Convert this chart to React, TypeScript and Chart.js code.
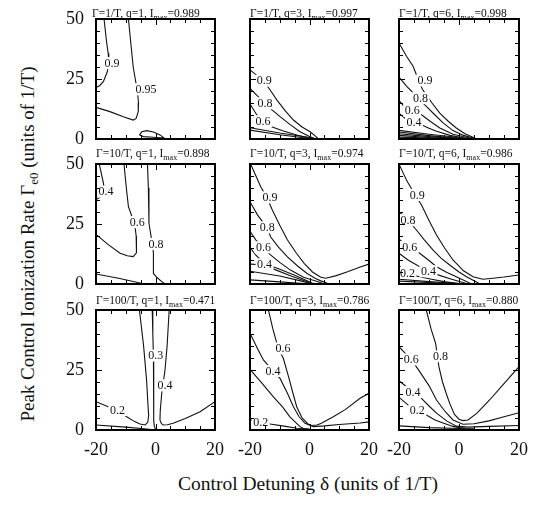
import React, { useEffect, useRef } from "react";
import { Chart, registerables } from "chart.js";
Chart.register(...registerables);

type P = [number, number];
type L = [number, number, string];

// axis ticks
const xTickLabels = [-20, 0, 20];
const yTickLabels = [0, 25, 50];

// panel parameters
const decayRates = ["1/T", "10/T", "100/T"];
const qValues = [1, 3, 6];
const iMaxRow1 = ["0.989", "0.997", "0.998"];
const iMaxRow2 = ["0.898", "0.974", "0.986"];
const iMaxRow3 = ["0.471", "0.786", "0.880"];

// ---- Γ=1/T, q=1
const c11a: P[] = [[-17.3, 50], [-16.4, 40], [-15.9, 35.7], [-15.7, 32], [-16.2, 28], [-17.5, 24], [-18.8, 22.2], [-20, 21.5]];
const c11b: P[] = [[-9.1, 50], [-8.3, 40], [-7.5, 30], [-6.8, 25], [-6.1, 20], [-5.7, 15], [-5.8, 11.4], [-6.5, 8.6], [-7.5, 7.9], [-10.8, 9.3], [-15.3, 11.4], [-20, 13.2]];
const c11c: P[] = [[-5.4, 1.7], [-4.6, 3.0], [-3.0, 3.5], [-0.7, 2.9], [1.5, 1.7], [2.9, 0.4], [-0.7, 0.7], [-4.1, 1.0], [-5.4, 1.7]];
const lab11: L[] = [[-14.6, 31.6, "0.9"], [-3.2, 20.7, "0.95"]];

// ---- Γ=1/T, q=3
const c12a: P[] = [[-20, 28.8], [-17.5, 26.3], [-15.5, 24.4], [-13, 20], [-11, 16.3], [-8, 11.5], [-5.4, 7.9], [-2.5, 5], [0.2, 3], [2, 1.2], [3, 0]];
const c12b: P[] = [[-20, 21.1], [-17.5, 18], [-15, 14.9], [-12.5, 12], [-9.9, 9.3], [-6.5, 6], [-3.2, 3], [0, 1], [2, 0]];
const c12c: P[] = [[-20, 14.6], [-17.7, 10], [-15.8, 7.5], [-13, 5.2], [-9, 3.4], [-4, 1.6], [0, 0.4], [1, 0]];
const c12d: P[] = [[-20, 4.7], [-10, 2.5], [0, 0.6], [3, 0]];
const c12e: P[] = [[-20, 3.7], [-10, 1.8], [0, 0.2], [2, 0]];
const lab12: L[] = [[-15.2, 24.3, "0.9"], [-15, 14.9, "0.8"], [-15.6, 7.4, "0.6"]];

// ---- Γ=1/T, q=6
const c13a: P[] = [[-20, 40], [-17.5, 34.5], [-15.3, 30.3], [-13.8, 25.5], [-12.2, 20.7], [-9, 15], [-6.4, 10.8], [-3.5, 7.3], [-0.9, 4.6], [2, 2.2], [5.2, 0.4], [6, 0]];
const c13b: P[] = [[-20, 25.8], [-17.5, 22], [-15.3, 19.2], [-13, 16.2], [-10.9, 13.6], [-8, 10], [-5.3, 6.7], [-2, 3.5], [1.5, 1.5], [4.7, 0.4], [5.5, 0]];
const c13c: P[] = [[-20, 16.1], [-18.3, 13.5], [-15.6, 11.5], [-12.5, 10.1], [-9.5, 7.3], [-6.4, 4.6], [-2, 2], [3.5, 0.4], [4.5, 0]];
const c13d: P[] = [[-20, 10.8], [-18, 8.6], [-15.9, 7], [-13.1, 6.2], [-10, 4.5], [-7.5, 3.2], [-3, 1.5], [2, 0.3], [3, 0]];
const c13e: P[] = [[-20, 3.6], [-10, 2], [0, 0.6], [4, 0]];
const c13f: P[] = [[-20, 2.9], [-10, 1.4], [3, 0]];
const c13g: P[] = [[-20, 2.2], [-10, 1], [2, 0]];
const c13h: P[] = [[-20, 1.5], [-10, 0.6], [1, 0]];
const c13i: P[] = [[-20, 0.8], [0, 0]];
const lab13: L[] = [[-11.3, 24.4, "0.9"], [-12.8, 17, "0.8"], [-15.6, 11.8, "0.6"], [-15, 6.8, "0.4"]];

// ---- Γ=10/T, q=1
const c21a: P[] = [[-18.9, 50], [-18.2, 46], [-17.5, 42], [-17.2, 39], [-18, 37], [-19.2, 35.7], [-20, 35.2]];
const c21b: P[] = [[-10.6, 50], [-9.8, 40], [-9.1, 32.2], [-7.6, 27], [-6.8, 23], [-6.5, 20], [-6.3, 16], [-6.5, 13], [-7.5, 11.4], [-9.5, 11.8], [-11.9, 12.8], [-16, 16.5], [-20, 20.7]];
const c21c: P[] = [[-2.7, 50], [-2.4, 40], [-2.2, 25.3], [-1.5, 20], [-0.9, 15], [-0.7, 12.8], [-0.7, 4.4], [0.4, 2.8], [2.6, 0.5], [3.5, 0]];
const c21d: P[] = [[-20, 4.2], [-12, 2.3], [-5.2, 0.4], [-4, 0]];
const lab21: L[] = [[-16.6, 38.5, "0.4"], [-6.1, 25.8, "0.6"], [0.2, 16.7, "0.8"]];

// ---- Γ=10/T, q=3
const c22a: P[] = [[-19.8, 50], [-18, 45], [-16.4, 40.5], [-14.3, 36], [-12.5, 30.8], [-10, 24.5], [-7.4, 18.3], [-4.5, 13], [-1.8, 8.6], [1, 5], [3.8, 2.8], [5.5, 2.4], [9, 3.5], [12.8, 5.1], [17.3, 7.2], [20, 8.3]];
const c22b: P[] = [[-20, 34.3], [-17.5, 28.8], [-15.5, 25.5], [-14.2, 23.5], [-13.1, 19.7], [-10.5, 15.5], [-7.5, 11.4], [-4, 7.5], [-0.8, 4.4], [2, 2.3], [4, 1.2], [6, 0.3], [7, 0]];
const c22c: P[] = [[-20, 22], [-18, 18.3], [-15.5, 15.3], [-13.1, 12.1], [-10, 9], [-6.4, 5.8], [-2, 2.8], [2.6, 1], [5, 0]];
const c22d: P[] = [[-20, 15.3], [-18.1, 12.1], [-16, 9.5], [-15, 8.2], [-10.8, 6.6], [-5.2, 3.75], [0.9, 0.4], [2, 0]];
const c22e: P[] = [[-20, 8.3], [-16, 8.0], [-12, 6.2], [-6, 3.2], [-1, 1.0], [1, 0]];
const c22f: P[] = [[-20, 5.3], [-10, 3.3], [-3, 1.3], [1, 0]];
const c22g: P[] = [[-20, 1.7], [-10, 0.9], [-2, 0.2], [0, 0]];
const lab22: L[] = [[-13.3, 36.1, "0.9"], [-14.2, 23.6, "0.8"], [-15.5, 15.3, "0.6"], [-15.1, 8.2, "0.4"]];

// ---- Γ=10/T, q=6
const c23a: P[] = [[-20, 50], [-18.6, 46.2], [-17.2, 42.6], [-14.8, 37.5], [-12.5, 32.9], [-10, 26.5], [-7.5, 20.4], [-4.8, 15], [-2, 10], [1.5, 5.5], [4.7, 3], [8, 2], [11.3, 2.4], [15, 2.9], [20, 3.75]];
const c23b: P[] = [[-20, 30.1], [-18.3, 28.2], [-17, 26.6], [-14.2, 22.5], [-11.5, 18.3], [-8.7, 14.2], [-6, 10.8], [-3.1, 7.9], [0, 5], [2.5, 3], [5.8, 0.8], [7, 0]];
const c23c: P[] = [[-20, 18.7], [-18, 16.7], [-16.4, 15.4], [-13.1, 12.8], [-10, 9.8], [-7.5, 7.2], [-4, 4.8], [-0.9, 3], [3.5, 0.4], [4.5, 0]];
const c23d: P[] = [[-20, 12.8], [-17, 10], [-13.1, 7.2], [-10.2, 5.5], [-7, 3.8], [-3, 2.2], [1, 0.7], [3, 0]];
const c23e: P[] = [[-20, 7.6], [-18.5, 5.8], [-17.2, 4.7], [-15, 3.5], [-13, 3.0], [-10, 2.2], [-5, 1], [0, 0.2], [1, 0]];
const c23f: P[] = [[-20, 2.0], [-10, 1.0], [0, 0.2], [1, 0]];
const c23g: P[] = [[-20, 1.2], [-5, 0.3], [-3, 0]];
const lab23: L[] = [[-13.9, 37.1, "0.9"], [-17, 26.6, "0.8"], [-16.4, 15.4, "0.6"], [-10.2, 5.3, "0.4"], [-17.2, 4.6, "0.2"]];

// ---- Γ=100/T, q=1
const c31a: P[] = [[-20, 11.8], [-16.5, 10], [-12.8, 8.3], [-9.7, 5.5], [-7, 3.5], [-5.2, 2.5], [-3.5, 2.1], [-2.6, 3.2], [-2.3, 6], [-2.6, 12], [-3, 20.8], [-4, 35], [-5.4, 50]];
const c31b: P[] = [[-1.1, 50], [-0.9, 40], [-0.7, 31], [-0.6, 20], [-0.6, 10], [-0.6, 4], [-0.4, 1.5], [0, 0.3]];
const c31c: P[] = [[4.6, 50], [3.9, 35], [3.2, 25], [2.1, 15.3], [1.6, 8], [1.5, 4.2], [2.0, 2.6], [2.6, 2.1], [4, 2.2], [5.9, 2.8], [10, 4.8], [15, 7.6], [20, 11.8]];
const c31d: P[] = [[-20, 2.1], [-10, 1.2], [-3, 0.4], [0, 0]];
const lab31: L[] = [[-12.8, 8.3, "0.2"], [0.1, 31, "0.3"], [3.2, 18.6, "0.4"]];

// ---- Γ=100/T, q=3
const c32a: P[] = [[-13.8, 50], [-12.3, 42], [-10.5, 34], [-8.8, 29.9], [-7, 22], [-5.5, 15], [-4.3, 9.7], [-2.5, 5], [-0.5, 2.5], [0.7, 1.9], [2.5, 2.1], [4, 2.8], [8, 5.5], [12, 8.5], [17, 13.2], [20, 15.3]];
const c32b: P[] = [[-20, 40.3], [-17.5, 34], [-15.5, 29.2], [-12.3, 24.6], [-9.9, 21.5], [-7.5, 15.5], [-5.4, 9.7], [-3.5, 5.5], [-1.5, 2.8], [1.3, 1.4], [5, 1.7], [10, 2.3], [17, 2.9], [20, 3.4]];
const c32c: P[] = [[-20, 25.3], [-16, 19.5], [-12.2, 13.9], [-9, 9.5], [-6.6, 5.5], [-4.5, 3], [-3.2, 1.4], [-2, 0.6], [0, 0.3], [1, 0]];
const c32d: P[] = [[-20, 4.4], [-16.4, 3.0], [-13.3, 2.5], [-8, 1.5], [-4.3, 0.7], [0, 0.3], [2, 0]];
const lab32: L[] = [[-8.9, 34, "0.6"], [-12.3, 24.6, "0.4"], [-16.4, 3.0, "0.2"]];

// ---- Γ=100/T, q=6
const c33a: P[] = [[-10.9, 50], [-9.3, 42], [-7.8, 36.1], [-7.2, 31], [-6.7, 26.4], [-5.5, 20], [-4.2, 15], [-3.1, 11.1], [-1.5, 6.5], [0, 4.5], [1.3, 3.9], [3, 4.2], [6, 7], [10.2, 12.5], [15, 19.3], [20, 26.4]];
const c33b: P[] = [[-20, 34.7], [-18, 32], [-15.9, 29.4], [-13.1, 24.3], [-10, 18.5], [-7.5, 12.5], [-4.5, 7.5], [-2, 4.2], [1.3, 2.4], [5, 2.6], [10, 3.8], [15, 5.5], [20, 7.2]];
const c33c: P[] = [[-20, 20.5], [-17.5, 18], [-15.3, 15.8], [-12.5, 13.2], [-10, 10], [-7.5, 7], [-4, 3.7], [-0.9, 1.6], [3, 1.2], [10, 1.5], [20, 1.9]];
const c33d: P[] = [[-20, 13.6], [-17, 10.5], [-13.9, 8.2], [-10.9, 6.25], [-8, 4.2], [-5.3, 2.9], [-2, 1.5], [0, 1.0], [2, 0.8]];
const c33e: P[] = [[-20, 1.7], [-10, 1.0], [0, 0.6], [5, 0.5]];
const lab33: L[] = [[-6.2, 30.7, "0.8"], [-15.9, 29.4, "0.6"], [-15.3, 15.8, "0.4"], [-13.9, 8.2, "0.2"]];

const panelLines: P[][][][] = [
  [[c11a, c11b, c11c], [c12a, c12b, c12c, c12d, c12e], [c13a, c13b, c13c, c13d, c13e, c13f, c13g, c13h, c13i]],
  [[c21a, c21b, c21c, c21d], [c22a, c22b, c22c, c22d, c22e, c22f, c22g], [c23a, c23b, c23c, c23d, c23e, c23f, c23g]],
  [[c31a, c31b, c31c, c31d], [c32a, c32b, c32c, c32d], [c33a, c33b, c33c, c33d, c33e]],
];
const panelLabels: L[][][] = [
  [lab11, lab12, lab13],
  [lab21, lab22, lab23],
  [lab31, lab32, lab33],
];
const iMax = [iMaxRow1, iMaxRow2, iMaxRow3];

// layout
const colLeft = [96, 250, 399];
const colWidth = [119, 119, 120];
const rowTop = [19, 164, 310];
const rowHeight = 120;
const titleBaseline = [17, 157, 304];
const SERIF = '"Liberation Serif", "Times New Roman", serif';

function Panel({ r, c }: { r: number; c: number }) {
  const ref = useRef<HTMLCanvasElement>(null);
  const PL = c === 0 ? 48 : 28;
  const PT = 28;
  const PR = 26;
  const PB = r === 2 ? 40 : 28;
  const w = colWidth[c] + PL + PR;
  const h = rowHeight + PT + PB;
  useEffect(() => {
    const lines = panelLines[r][c];
    const labels = panelLabels[r][c];
    const labelPlugin = {
      id: "contourLabels",
      afterDatasetsDraw(chart: any) {
        const ctx = chart.ctx;
        const xs = chart.scales.x;
        const ys = chart.scales.y;
        ctx.save();
        ctx.font = `12px ${SERIF}`;
        ctx.textAlign = "center";
        ctx.textBaseline = "middle";
        for (const [lx, ly, t] of labels) {
          const px = xs.getPixelForValue(lx);
          const py = ys.getPixelForValue(ly);
          const tw = ctx.measureText(t).width;
          ctx.fillStyle = "#fff";
          ctx.fillRect(px - tw / 2 - 1.5, py - 6, tw + 3, 12);
          ctx.fillStyle = "#111";
          ctx.fillText(t, px, py + 0.5);
        }
        ctx.restore();
      },
    };
    const framePlugin = {
      id: "frameTicks",
      afterDraw(chart: any) {
        const ctx = chart.ctx;
        const { left, right, top, bottom } = chart.chartArea;
        const xs = chart.scales.x;
        const ys = chart.scales.y;
        ctx.save();
        ctx.strokeStyle = "#000";
        ctx.lineWidth = 1;
        ctx.beginPath();
        for (const t of xs.ticks) {
          const px = Math.round(xs.getPixelForValue(t.value)) + 0.5;
          const len = xTickLabels.includes(t.value) ? 6 : 4;
          ctx.moveTo(px, bottom);
          ctx.lineTo(px, bottom - len);
          ctx.moveTo(px, top);
          ctx.lineTo(px, top + len);
        }
        for (const t of ys.ticks) {
          const py = Math.round(ys.getPixelForValue(t.value)) + 0.5;
          const len = yTickLabels.includes(t.value) ? 6 : 4;
          ctx.moveTo(left, py);
          ctx.lineTo(left + len, py);
          ctx.moveTo(right, py);
          ctx.lineTo(right - len, py);
        }
        ctx.stroke();
        ctx.lineWidth = 2;
        ctx.strokeRect(left, top, right - left, bottom - top);
        ctx.restore();
      },
    };
    const chart = new Chart(ref.current as HTMLCanvasElement, {
      type: "scatter",
      data: {
        datasets: lines.map((pts) => ({
          data: pts.map(([x, y]) => ({ x, y })),
          showLine: true,
          borderColor: "#111",
          borderWidth: 1.1,
          pointRadius: 0,
          pointHoverRadius: 0,
          fill: false,
          tension: 0,
        })),
      },
      options: {
        animation: false,
        responsive: false,
        maintainAspectRatio: false,
        events: [],
        layout: { padding: { left: 0, top: PT, right: PR, bottom: 0 } },
        plugins: { legend: { display: false }, tooltip: { enabled: false } },
        scales: {
          x: {
            type: "linear",
            min: -20,
            max: 20,
            grid: { display: false, drawTicks: false },
            border: { display: false },
            ticks: {
              stepSize: 5,
              autoSkip: false,
              maxRotation: 0,
              display: r === 2,
              padding: 9,
              color: "#111",
              font: { family: SERIF, size: 18 },
              callback: (v: any) => (xTickLabels.includes(v) ? String(v) : ""),
            },
            afterFit: (s: any) => {
              s.height = PB;
            },
          },
          y: {
            type: "linear",
            min: 0,
            max: 50,
            grid: { display: false, drawTicks: false },
            border: { display: false },
            ticks: {
              stepSize: 5,
              autoSkip: false,
              display: c === 0,
              padding: 12,
              color: "#111",
              font: { family: SERIF, size: 18 },
              callback: (v: any) => (yTickLabels.includes(v) ? String(v) : ""),
            },
            afterFit: (s: any) => {
              s.width = PL;
            },
          },
        },
      } as any,
      plugins: [labelPlugin, framePlugin],
    });
    return () => chart.destroy();
  }, []);
  return (
    <canvas
      ref={ref}
      width={w}
      height={h}
      style={{ position: "absolute", left: colLeft[c] - PL, top: rowTop[r] - PT, width: w, height: h }}
    />
  );
}

function Title({ r, c }: { r: number; c: number }) {
  const left = r === 0 && c === 0 ? 92 : colLeft[c];
  return (
    <div
      style={{
        position: "absolute",
        left,
        top: titleBaseline[r] - 9.9,
        fontFamily: SERIF,
        fontSize: "11.5px",
        lineHeight: "12px",
        whiteSpace: "nowrap",
        color: "#111",
      }}
    >
      Γ={decayRates[r]}, q={qValues[c]}, I
      <span style={{ fontSize: "8px", position: "relative", top: "3px" }}>max</span>={iMax[r][c]}
    </div>
  );
}

export default function App() {
  const cells: { r: number; c: number }[] = [];
  for (let r = 0; r < 3; r++) for (let c = 0; c < 3; c++) cells.push({ r, c });
  return (
    <div style={{ position: "absolute", left: 0, top: 0, width: 538, height: 506, background: "#fff" }}>
      {cells.map(({ r, c }) => (
        <Panel key={`p${r}${c}`} r={r} c={c} />
      ))}
      {cells.map(({ r, c }) => (
        <Title key={`t${r}${c}`} r={r} c={c} />
      ))}
      <div
        style={{
          position: "absolute",
          left: 28.5,
          top: 243.5,
          transform: "translate(-50%, -50%) rotate(-90deg)",
          fontFamily: SERIF,
          fontSize: "19px",
          lineHeight: "22px",
          whiteSpace: "nowrap",
          color: "#111",
        }}
      >
        Peak Control Ionization Rate Γ
        <span style={{ fontSize: "13px", position: "relative", top: "4px" }}>e0</span> (units of 1/T)
      </div>
      <div
        style={{
          position: "absolute",
          left: 308,
          top: 472.5,
          transform: "translateX(-50%)",
          fontFamily: SERIF,
          fontSize: "19.5px",
          lineHeight: "22px",
          whiteSpace: "nowrap",
          color: "#111",
        }}
      >
        Control Detuning δ (units of 1/T)
      </div>
    </div>
  );
}
